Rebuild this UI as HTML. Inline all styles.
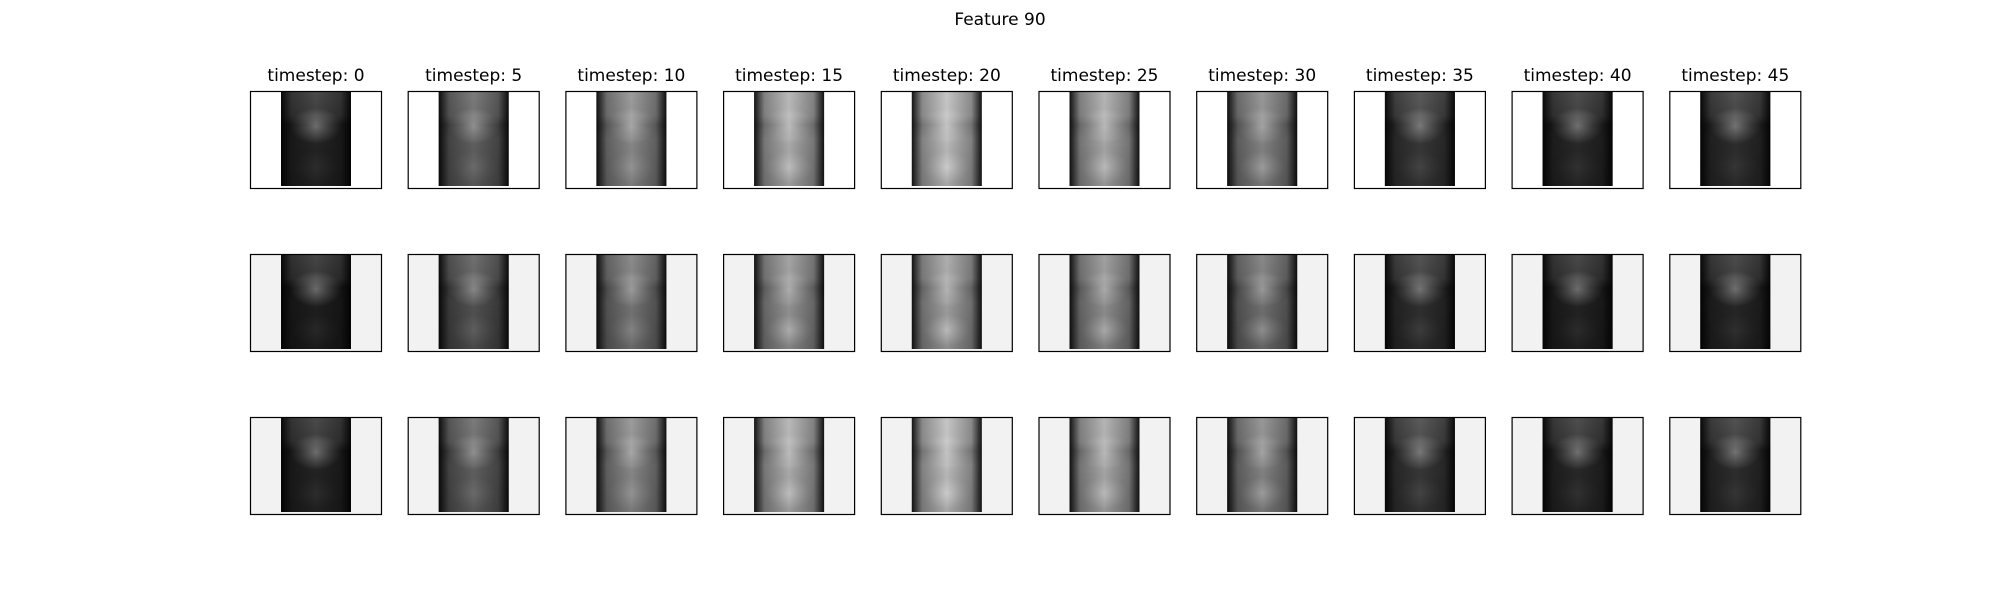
<!DOCTYPE html>
<html><head><meta charset="utf-8"><style>
html,body{margin:0;padding:0;background:#fff;}
svg{display:block;font-family:"DejaVu Sans","Liberation Sans",sans-serif;}
</style></head><body>
<svg id="fig" width="2000" height="600" viewBox="0 0 2000 600">
<defs>
<linearGradient id="edge" x1="0" x2="1" y1="0" y2="0">
<stop offset="0" stop-color="#000" stop-opacity="0.9"/>
<stop offset="0.15" stop-color="#000" stop-opacity="0.3"/>
<stop offset="0.5" stop-color="#000" stop-opacity="0"/>
<stop offset="0.85" stop-color="#000" stop-opacity="0.3"/>
<stop offset="1" stop-color="#000" stop-opacity="0.9"/>
</linearGradient>
<linearGradient id="head" x1="0" x2="0" y1="0" y2="1">
<stop offset="0" stop-color="#fff" stop-opacity="0.18"/>
<stop offset="0.25" stop-color="#fff" stop-opacity="0.12"/>
<stop offset="0.35" stop-color="#000" stop-opacity="0.12"/>
<stop offset="0.5" stop-color="#000" stop-opacity="0"/>
<stop offset="1" stop-color="#000" stop-opacity="0.1"/>
</linearGradient>
<radialGradient id="blob"><stop offset="0" stop-color="#fff" stop-opacity="0.35"/><stop offset="1" stop-color="#fff" stop-opacity="0"/></radialGradient>
</defs>
<text x="1000" y="25" text-anchor="middle" font-size="17">Feature 90</text>
</svg>
<script>
const timesteps = [0,5,10,15,20,25,30,35,40,45];
const bodyLevel = [35,95,135,170,185,165,130,55,40,45];
const lowerBlob = [0.1,0.2,0.3,0.6,0.7,0.6,0.5,0.15,0.1,0.1];
const rowBg = ['#ffffff','#f2f2f2','#f2f2f2'];
const rowDim = [1,0.85,1];
const svg = document.getElementById('fig');
const NS = 'http://www.w3.org/2000/svg';
function mk(t,a){const e=document.createElementNS(NS,t);for(const k in a)e.setAttribute(k,a[k]);return e;}
const x0=250, dx=157.7, y0=91, dy=163, pw=132, ph=98;
function colX(i){return x0+i*dx;}
function rowY(r){return y0+r*dy;}
function g(v){v=Math.max(0,Math.min(255,Math.round(v)));return `rgb(${v},${v},${v})`;}
timesteps.forEach((t,i)=>{
  const tx=mk('text',{x:colX(i)+pw/2,y:81,'text-anchor':'middle','font-size':'17'});
  tx.textContent='timestep: '+t;
  
  
  svg.appendChild(tx);
  for(let r=0;r<3;r++){
    const px=colX(i), py=rowY(r);
    const grp=mk('g',{});
    
    
    grp.appendChild(mk('rect',{x:px,y:py,width:pw,height:ph,fill:rowBg[r]}));
    const ix=px+31, iy=py+1, iw=70, ih=ph-4;
    const d=rowDim[r];
    grp.appendChild(mk('rect',{x:ix,y:iy,width:iw,height:ih,fill:g(bodyLevel[i]*d)}));
    grp.appendChild(mk('rect',{x:ix,y:iy,width:iw,height:ih,fill:'url(#head)'}));
    grp.appendChild(mk('ellipse',{cx:ix+iw/2,cy:iy+ih*0.36,rx:26,ry:18,fill:'url(#blob)'}));
    grp.appendChild(mk('ellipse',{cx:ix+iw/2,cy:iy+ih*0.8,rx:24,ry:16,fill:'url(#blob)','fill-opacity':lowerBlob[i]*1.4}));
    grp.appendChild(mk('rect',{x:ix,y:iy,width:iw,height:ih,fill:'url(#edge)'}));
    grp.appendChild(mk('rect',{x:px+0.5,y:py+0.5,width:pw-1,height:ph-1,fill:'none',stroke:'#000','stroke-width':1.2}));
    svg.appendChild(grp);
  }
});
</script>
</body></html>
